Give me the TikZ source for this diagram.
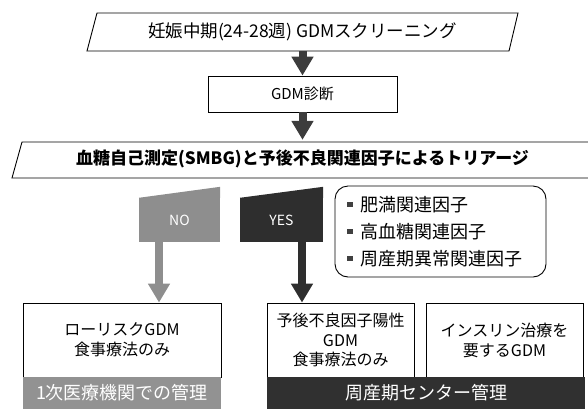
\documentclass[tikz,border=0pt]{standalone}
\usepackage{fontspec}
\setmainfont{Noto Sans CJK JP}
\usetikzlibrary{arrows.meta}

\definecolor{arrowdark}{HTML}{3C3C3C}
\definecolor{nogray}{HTML}{8E8E8E}
\definecolor{yesdark}{HTML}{2E2E2E}
\definecolor{bargray}{HTML}{929292}
\definecolor{bardark}{HTML}{303030}
\definecolor{bulletgray}{HTML}{404040}

\newcommand\sqbullet{\textcolor{bulletgray}{\rule[4pt]{5.5pt}{5.5pt}}\hspace{8pt}}

\begin{document}
\begin{tikzpicture}[x=1pt,y=-1pt,
  box/.style={draw=black, line width=0.8pt, fill=white, inner sep=0pt, align=center},
  plain/.style={inner sep=0pt, align=center},
  bar/.style={inner sep=0pt, align=center, text=white, minimum height=32pt,
    font=\fontsize{18}{20}\selectfont},
  blockarrow/.style={line width=8pt, -{Triangle[width=21pt,length=19pt]}},
  outline/.style={line width=0.9pt, line join=miter},
]
\useasboundingbox (0,0) rectangle (588,408);

% screening step
\draw[outline] (97,13) -- (518,13) -- (509,51) -- (87,51) -- cycle;
\node[plain, minimum width=422pt, minimum height=38pt,
  font=\fontsize{17.5}{20}\selectfont] (screen) at (302.5,32)
  {妊娠中期(24-28週) GDMスクリーニング};

% diagnosis
\node[box, minimum width=189pt, minimum height=36pt,
  font=\fontsize{15}{18}\selectfont] (diag) at (302.5,94) {GDM診断};

% triage step
\draw[outline] (22,142) -- (620,142) -- (610,178) -- (12,178) -- cycle;
\node[plain, minimum width=560pt, minimum height=36pt,
  font=\bfseries\fontsize{17}{20}\selectfont] (triage) at (302.5,159)
  {血糖自己測定(SMBG)と予後不良関連因子によるトリアージ};

\draw[blockarrow, arrowdark] (screen.south) -- (diag.north);
\draw[blockarrow, arrowdark] (diag.south) -- ([yshift=1pt]triage.north);

% NO / YES signs
\node[plain, minimum width=81pt, minimum height=44pt, fill=nogray, text=white,
  font=\fontsize{14}{16}\selectfont] (no) at (179.5,220) {NO};
\fill[nogray] (no.north west) -- (no.north east) -- ([yshift=11pt]no.north east) -- cycle;
\node[plain, minimum width=83pt, minimum height=44pt, fill=yesdark, text=white,
  font=\fontsize{14}{16}\selectfont] (yes) at (281.5,220) {YES};
\fill[yesdark] (yes.north west) -- (yes.north east) -- ([yshift=11pt]yes.north east) -- cycle;

% prognostic factors
\node[draw, line width=0.9pt, rounded corners=13pt, minimum width=211pt,
  minimum height=91pt, inner xsep=12pt, inner ysep=0pt, text width=187pt,
  align=left, font=\fontsize{18}{27}\selectfont] (factors) at (440.5,231.5)
  {\sqbullet 肥満関連因子\\ \sqbullet 高血糖関連因子\\ \sqbullet 周産期異常関連因子};

% outcome boxes
\node[box, minimum width=198pt, minimum height=74pt,
  font=\fontsize{16}{20}\selectfont] (lowrisk) at (122,340)
  {ローリスクGDM\\食事療法のみ};
\node[box, minimum width=147pt, minimum height=74pt,
  font=\fontsize{16}{19.5}\selectfont] (poor) at (340.5,340)
  {予後不良因子陽性\\GDM\\食事療法のみ};
\node[box, minimum width=157pt, minimum height=74pt,
  font=\fontsize{16}{20}\selectfont] (insulin) at (504.5,340)
  {インスリン治療を\\要するGDM};

% management bars
\node[bar, fill=bargray, minimum width=198pt] (primary) at (122,393)
  {1次医療機関での管理};
\node[bar, fill=bardark, minimum width=318pt] (center) at (426,393)
  {周産期センター管理};

% branch arrows
\coordinate (noout) at ([xshift=-20.5pt]no.south);
\coordinate (yesout) at ([xshift=20.5pt]yes.south);
\draw[blockarrow, nogray] (noout) -- (noout |- lowrisk.north);
\draw[blockarrow, yesdark] (yesout) -- (yesout |- poor.north);
\end{tikzpicture}
\end{document}
